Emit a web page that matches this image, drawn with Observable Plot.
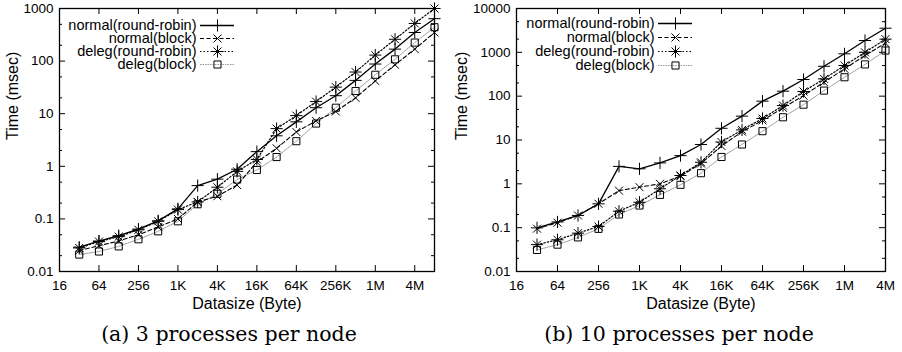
<!DOCTYPE html>
<html><head><meta charset="utf-8">
<script src="https://cdn.jsdelivr.net/npm/d3@7"></script>
<script src="https://cdn.jsdelivr.net/npm/@observablehq/plot@0.6"></script>
<style>
body{margin:0;background:#fff;}
#wrap{position:relative;width:902px;height:352px;overflow:hidden;background:#fff;}
.abs{position:absolute;}
.cap{position:absolute;top:322px;font-family:"DejaVu Serif",serif;font-size:20.5px;line-height:24px;white-space:nowrap;transform:translateX(-50%);color:#000;}
</style></head><body>
<div id="wrap"></div>
<script>
// ---------- data ----------
const seriesNames = ["normal(round-robin)", "normal(block)", "deleg(round-robin)", "deleg(block)"];

const sizesA = [32, 64, 128, 256, 512, 1024, 2048, 4096, 8192, 16384, 32768, 65536, 131072, 262144, 524288, 1048576, 2097152, 4194304, 8388608];
const aNormalRR    = [0.029, 0.038, 0.048, 0.064, 0.092, 0.155, 0.43, 0.57, 0.88, 1.9, 3.8, 7.0, 13, 22, 43, 88, 169, 350, 640];
const aNormalBlock = [0.025, 0.031, 0.038, 0.050, 0.070, 0.10, 0.21, 0.27, 0.44, 1.2, 2.2, 4.5, 7.3, 11, 20, 42, 85, 169, 350];
const aDelegRR     = [0.028, 0.037, 0.046, 0.062, 0.090, 0.15, 0.21, 0.40, 0.80, 1.35, 5.2, 9.2, 17, 32, 62, 130, 260, 520, 1000];
const aDelegBlock  = [0.021, 0.024, 0.030, 0.041, 0.058, 0.090, 0.19, 0.30, 0.56, 0.85, 1.5, 3.0, 6.5, 13, 27, 55, 108, 225, 440];

const sizesB = [32, 64, 128, 256, 512, 1024, 2048, 4096, 8192, 16384, 32768, 65536, 131072, 262144, 524288, 1048576, 2097152, 4194304];
const bNormalRR    = [0.099, 0.135, 0.19, 0.35, 2.5, 2.2, 3.0, 4.4, 7.9, 18.5, 35, 77, 130, 240, 480, 925, 1860, 3550];
const bNormalBlock = [0.095, 0.13, 0.19, 0.35, 0.70, 0.84, 1.0, 1.5, 2.9, 7.3, 15.5, 28, 54, 103, 208, 420, 850, 1620];
const bDelegRR     = [0.041, 0.053, 0.075, 0.106, 0.237, 0.38, 0.77, 1.55, 3.1, 9.0, 17, 31, 61, 128, 248, 500, 1000, 2000];
const bDelegBlock  = [0.031, 0.041, 0.060, 0.094, 0.20, 0.32, 0.56, 0.95, 1.75, 4.1, 7.9, 15.9, 33, 64, 134, 270, 530, 1100];

const xTicks = [16, 64, 256, 1024, 4096, 16384, 65536, 262144, 1048576, 4194304];
const xTickLabels = ["16", "64", "256", "1K", "4K", "16K", "64K", "256K", "1M", "4M"];
const yTicksA = [0.01, 0.1, 1, 10, 100, 1000];
const yTickLabelsA = ["0.01", "0.1", "1", "10", "100", "1000"];
const yMinorA = [0.02, 0.05, 0.2, 0.5, 2, 5, 20, 50, 200, 500];
const yTicksB = [0.01, 0.1, 1, 10, 100, 1000, 10000];
const yTickLabelsB = ["0.01", "0.1", "1", "10", "100", "1000", "10000"];
const yMinorB = [0.02, 0.05, 0.2, 0.5, 2, 5, 20, 50, 200, 500, 2000, 5000];

const xLabel = "Datasize (Byte)";
const yLabel = "Time (msec)";
const captionA = "(a) 3 processes per node";
const captionB = "(b) 10 processes per node";

// ---------- styles ----------
const styles = [
  {stroke: "#000", width: 1.3, dash: null, symbols: ["plus"]},
  {stroke: "#000", width: 1.1, dash: "4,2.5", symbols: ["times"]},
  {stroke: "#000", width: 1.2, dash: "1.5,2", symbols: ["plus", "times"]},
  {stroke: "#999", width: 1.0, dash: "1.5,1", symbols: ["square"]}
];
const symR = {plus: 4, times: 3.7, square: 4};
const FONT = "Liberation Sans, Arial, sans-serif";

function rowsOf(sizes, lists) {
  const rows = [];
  lists.forEach((vals, i) => vals.forEach((v, j) => rows.push({series: seriesNames[i], size: sizes[j], time: v})));
  return rows;
}

function seriesMarks(rows) {
  const marks = [];
  const order = [3, 1, 2, 0];
  for (const i of order) {
    const s = styles[i];
    const data = rows.filter(r => r.series === seriesNames[i]);
    marks.push(Plot.line(data, {x: "size", y: "time", stroke: s.stroke, strokeWidth: s.width, strokeDasharray: s.dash}));
  }
  for (const i of order) {
    const s = styles[i];
    const data = rows.filter(r => r.series === seriesNames[i]);
    for (const sym of s.symbols) {
      marks.push(Plot.dot(data, {x: "size", y: "time", symbol: sym, r: symR[sym], stroke: "#000", strokeWidth: 1, fill: "none"}));
    }
  }
  return marks;
}

const W = 451, H = 312, MT = 8, MB = 41, MR = 17;

function panel({sizes, lists, xDomain, yDomain, yTicks, yTickLabels, yMinor, ml, yLabelDx}) {
  const plotW = W - ml - MR, plotH = H - MT - MB;
  const rows = rowsOf(sizes, lists);
  const xFmt = new Map(xTicks.map((t, i) => [t, xTickLabels[i]]));
  const yFmt = new Map(yTicks.map((t, i) => [t, yTickLabels[i]]));
  const tickStyle = {stroke: "#000", strokeWidth: 1};
  return Plot.plot({
    width: W, height: H,
    marginLeft: ml, marginRight: MR, marginTop: MT, marginBottom: MB,
    style: {fontFamily: FONT, fontSize: "13.5px", color: "#000", background: "transparent"},
    x: {type: "log", base: 2, domain: xDomain, axis: null},
    y: {type: "log", domain: yDomain, axis: null},
    marks: [
      Plot.tickX(xTicks, {x: d => d, insetTop: plotH - 6, ...tickStyle}),
      Plot.tickX(xTicks, {x: d => d, insetBottom: plotH - 6, ...tickStyle}),
      Plot.tickY(yTicks, {y: d => d, insetRight: plotW - 6, ...tickStyle}),
      Plot.tickY(yTicks, {y: d => d, insetLeft: plotW - 6, ...tickStyle}),
      Plot.tickY(yMinor, {y: d => d, insetRight: plotW - 3, ...tickStyle}),
      Plot.tickY(yMinor, {y: d => d, insetLeft: plotW - 3, ...tickStyle}),
      Plot.axisX({ticks: xTicks, tickFormat: d => xFmt.get(d), tickSize: 0, tickPadding: 9, label: null, fontSize: 13.5}),
      Plot.axisY({ticks: yTicks, tickFormat: d => yFmt.get(d), tickSize: 0, tickPadding: 6, label: null, fontSize: 13.5}),
      Plot.text([xLabel], {text: d => d, frameAnchor: "bottom", dy: 32.5, lineAnchor: "middle", fontSize: 16, fill: "#000"}),
      Plot.text([yLabel], {text: d => d, frameAnchor: "left", dx: yLabelDx, rotate: -90, lineAnchor: "middle", fontSize: 16, fill: "#000"}),
      ...seriesMarks(rows),
      Plot.frame({stroke: "#000", strokeWidth: 1.3})
    ]
  });
}

function legend({x1, x2, y1, y2}) {
  const marks = [];
  styles.forEach((s, i) => {
    marks.push(Plot.ruleY([seriesNames[i]], {y: d => d, x1: 0, x2: 1, stroke: s.stroke, strokeWidth: s.width, strokeDasharray: s.dash}));
  });
  styles.forEach((s, i) => {
    for (const sym of s.symbols) {
      marks.push(Plot.dot([seriesNames[i]], {y: d => d, x: 0.5, symbol: sym, r: symR[sym], stroke: "#000", strokeWidth: 1, fill: "none"}));
    }
  });
  marks.push(Plot.text(seriesNames, {y: d => d, x: 0, text: d => d, textAnchor: "end", dx: -4, fontSize: 14.5, fill: "#000"}));
  return Plot.plot({
    width: x2 + 6, height: y2 + 8, margin: 0,
    style: {fontFamily: FONT, background: "transparent", color: "#000"},
    x: {domain: [0, 1], range: [x1, x2], axis: null},
    y: {type: "point", domain: seriesNames, range: [y1, y2], padding: 0, axis: null},
    marks
  });
}

const wrap = document.getElementById("wrap");
function place(node, left, top) {
  node.classList.add("abs");
  node.style.left = left + "px";
  node.style.top = top + "px";
  wrap.appendChild(node);
}

place(panel({
  sizes: sizesA, lists: [aNormalRR, aNormalBlock, aDelegRR, aDelegBlock],
  xDomain: [16, 8388608], yDomain: [0.01, 1000],
  yTicks: yTicksA, yTickLabels: yTickLabelsA, yMinor: yMinorA, ml: 59, yLabelDx: -47
}), 0, 0);
place(panel({
  sizes: sizesB, lists: [bNormalRR, bNormalBlock, bDelegRR, bDelegBlock],
  xDomain: [16, 4194304], yDomain: [0.01, 10000],
  yTicks: yTicksB, yTickLabels: yTickLabelsB, yMinor: yMinorB, ml: 65, yLabelDx: -54.5
}), 451, 0);
place(legend({x1: 200, x2: 234, y1: 24, y2: 64}), 0, 0);
place(legend({x1: 207, x2: 241, y1: 22, y2: 66}), 451, 0);

for (const [txt, cx] of [[captionA, 229], [captionB, 679]]) {
  const d = document.createElement("div");
  d.className = "cap";
  d.textContent = txt;
  d.style.left = cx + "px";
  wrap.appendChild(d);
}
</script>
</body></html>
